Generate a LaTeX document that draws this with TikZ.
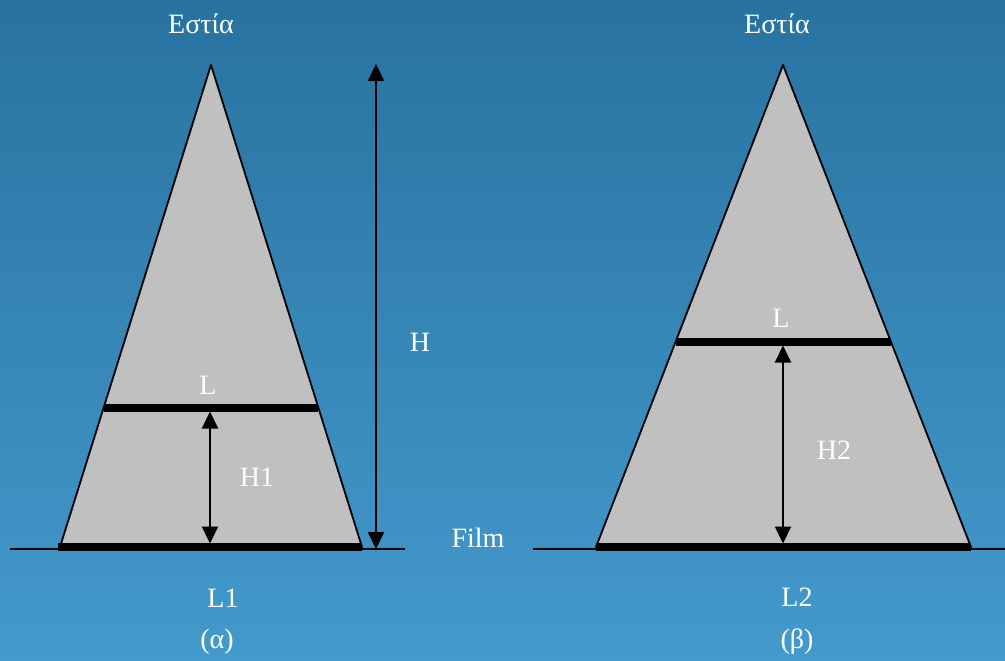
\documentclass[tikz,border=0pt]{standalone}
\usepackage{fontspec}
\setmainfont{Liberation Serif}
\usetikzlibrary{arrows.meta, calc}

\definecolor{bgTop}{RGB}{40,114,160}
\definecolor{bgBottom}{RGB}{68,154,204}
\definecolor{coneGray}{RGB}{192,192,192}

\begin{document}
\begin{tikzpicture}[
        x=1pt, y=-1pt,
        txt/.style={
            text=white, inner sep=0pt,
            font=\fontsize{28}{31}\selectfont
        },
        cone/.style={
            fill=coneGray, draw=black, line width=1.8pt, line join=round
        },
        plate/.style={
            draw=black, line width=7.5pt
        },
        film/.style={
            draw=black, line width=1.6pt
        },
        dim/.style={
            line width=2.2pt, {Triangle[length=17pt,width=16pt]}-{Triangle[length=17pt,width=16pt]}
        }
    ]
        % Background
        \shade[top color=bgTop, bottom color=bgBottom] (0,0) rectangle (1005,661);
        \useasboundingbox (0,0) rectangle (1005,661);

        % Film lines
        \coordinate (filmA1) at (10,549);
        \coordinate (filmA2) at (405,549);
        \coordinate (filmB1) at (533,549);
        \coordinate (filmB2) at (1005,549);
        \draw [film] (filmA1) -- (filmA2);
        \draw [film] (filmB1) -- (filmB2);

        % Cone (a)
        \coordinate (apexA) at (211,65);
        \coordinate (baseLA) at (60,547);
        \coordinate (baseRA) at (362,547);
        \draw [cone] (apexA) -- (baseLA) -- (baseRA) -- cycle;
        \coordinate (objLA) at ($(apexA)!0.7116!(baseLA)$);
        \coordinate (objRA) at ($(apexA)!0.7116!(baseRA)$);
        \draw [plate] (objLA) -- (objRA);
        \draw [plate] ($(baseLA)+(-2,0)$) -- (baseRA);

        % Cone (b)
        \coordinate (apexB) at (783,65);
        \coordinate (baseLB) at (596,547);
        \coordinate (baseRB) at (971,547);
        \draw [cone] (apexB) -- (baseLB) -- (baseRB) -- cycle;
        \coordinate (objLB) at ($(apexB)!0.5747!(baseLB)$);
        \coordinate (objRB) at ($(apexB)!0.5747!(baseRB)$);
        \draw [plate] (objLB) -- (objRB);
        \draw [plate] (baseLB) -- (baseRB);

        % Distance arrows
        \coordinate (h1Top) at (210,408);
        \coordinate (h1Bot) at (210,547);
        \draw [dim, shorten <=3.5pt, shorten >=3.5pt] (h1Top) -- (h1Bot);
        \coordinate (h2Top) at (783,342);
        \coordinate (h2Bot) at (783,547);
        \draw [dim, shorten <=3.5pt, shorten >=3.5pt] (h2Top) -- (h2Bot);
        \coordinate (hTop) at (376,64);
        \coordinate (hBot) at (376,549);
        \draw [dim] (hTop) -- (hBot);

        % Labels
        \node (focusA) [txt] at (201,24) {Εστία};
        \node (focusB) [txt] at (777,24) {Εστία};
        \node (lblLA) [txt] at (208,385) {L};
        \node (lblLB) [txt] at (781,318) {L};
        \node (lblH) [txt] at (420,342) {H};
        \node (lblH1) [txt] at (257,477) {H1};
        \node (lblH2) [txt] at (834,450) {H2};
        \node (lblFilm) [txt] at (478,538) {Film};
        \node (lblL1) [txt] at (223,598) {L1};
        \node (lblL2) [txt] at (797,597) {L2};
        \node (capA) [txt] at (217,642) {(α)};
        \node (capB) [txt] at (797,642) {(β)};
    \end{tikzpicture}
\end{document}
